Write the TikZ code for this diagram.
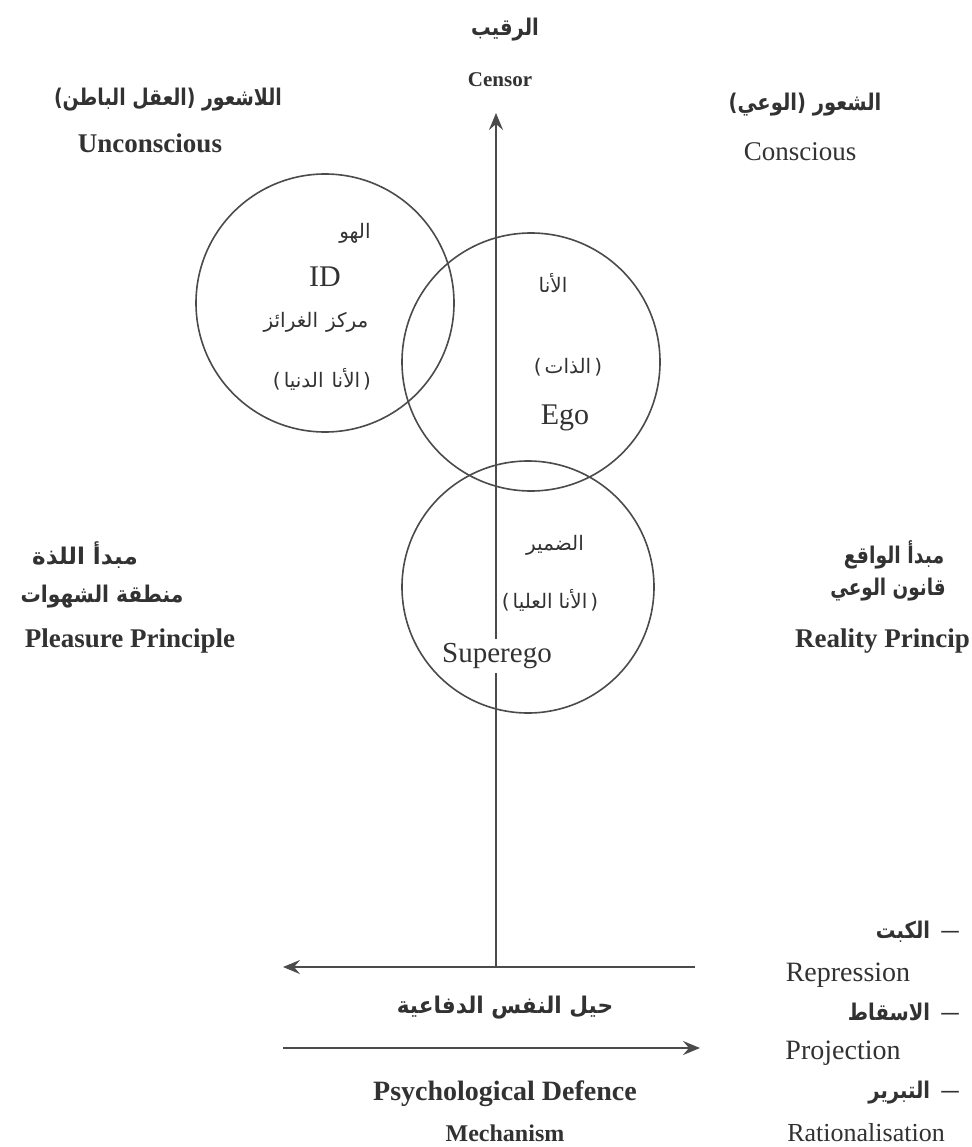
\documentclass[tikz,border=0pt]{standalone}
\usepackage{graphicx}
\usepackage{fontspec}
\setmainfont{Liberation Serif}
\newfontfamily\arabicfont[Script=Arabic]{DejaVu Sans}
\TeXXeTstate=1
\usetikzlibrary{arrows.meta}
\definecolor{ink}{RGB}{50,50,50}
\definecolor{lineink}{RGB}{75,75,75}
\newcommand{\artxt}[1]{{\arabicfont\beginR #1\endR}}
\newcommand{\sqz}[2]{\scalebox{#1}[1]{#2}}
\begin{document}
\begin{tikzpicture}[x=1pt,y=-1pt,
  lbl/.style={text=ink, inner sep=0pt, anchor=center},
  en/.style={lbl, font=\fontsize{27}{30}\selectfont},
  enb/.style={lbl, font=\fontsize{27}{30}\selectfont\bfseries},
  arb/.style={lbl, font=\fontsize{23}{26}\selectfont\arabicfont\bfseries},
  arr/.style={lbl, font=\fontsize{20}{24}\selectfont\arabicfont},
  psy/.style={circle, draw=lineink, line width=1.6pt, inner sep=0pt},
  axis/.style={draw=lineink, line width=1.6pt},
  tip/.style={-{Stealth[length=17pt,width=14pt,inset=6pt]}}]
\useasboundingbox (0,0) rectangle (971,1147);
\fill[white] (0,0) rectangle (971,1147);

% circles
\node[psy, minimum size=258pt] (id) at (325,303) {};
\node[psy, minimum size=258pt] (ego) at (531,362) {};
\node[psy, minimum size=252pt] (superego) at (528,587) {};

% axes
\coordinate (vbot) at (496,967);
\coordinate (vtop) at (496,113);
\coordinate (hright) at (695,967);
\coordinate (hleft) at (283,967);
\coordinate (bl) at (283,1048);
\coordinate (br) at (700,1048);
\draw[axis,tip] (vbot) -- (vtop);
\draw[axis,tip] (hright) -- (hleft);
\draw[axis,tip] (bl) -- (br);

% top labels
\node[arb] (raqib) at (505,30) {\sqz{0.85}{\artxt{الرقيب}}};
\node[enb, font=\fontsize{21}{24}\selectfont\bfseries] (censor) at (500,80) {Censor};
\node[arb] (lashuur) at (168,100) {\sqz{0.82}{\artxt{اللاشعور (العقل الباطن)}}};
\node[enb] (uncon) at (150,143) {Unconscious};
\node[arb] (shuur) at (805,105) {\sqz{0.85}{\artxt{الشعور (الوعي)}}};
\node[en] (con) at (800,152) {Conscious};

% id
\node[arr] (huwa) at (355,233) {\artxt{الهو}};
\node[en, font=\fontsize{30}{32}\selectfont] (idtxt) at (325,277) {ID};
\node[arr] (markaz) at (316,322) {\artxt{مركز\hspace{8pt}الغرائز}};
\node[arr] (dunya) at (322,379) {\artxt{(\hspace{3pt}الأنا\hspace{8pt}الدنيا\hspace{3pt})}};

% ego
\node[arr] (ana) at (553,283) {\artxt{الأنا}};
\node[arr] (dhat) at (568,367) {\artxt{(\hspace{3pt}الذات\hspace{3pt})}};
\node[en, font=\fontsize{30}{32}\selectfont] (egotxt) at (565,418) {Ego};

% superego
\node[arr] (damir) at (555,545) {\artxt{الضمير}};
\node[arr] (ulya) at (550,600) {\artxt{(\hspace{3pt}الأنا\hspace{6pt}العليا\hspace{3pt})}};
\node[en, font=\fontsize{29}{32}\selectfont, fill=white, inner sep=4pt] (supertxt) at (497,656) {Superego};

% sides
\node[arb] (mabda1) at (85,555) {\artxt{مبدأ اللذة}};
\node[arb] (mintaqa) at (102,597) {\sqz{0.88}{\artxt{منطقة الشهوات}}};
\node[enb] (pleasure) at (130,641) {Pleasure Principle};
\node[arb] (mabda2) at (894,555) {\sqz{0.82}{\artxt{مبدأ الواقع}}};
\node[arb] (qanun) at (888,590) {\sqz{0.8}{\artxt{قانون الوعي}}};
\node[enb, anchor=east] (reality) at (970,641) {Reality Princip};

% bottom
\node[arb] (hiyal) at (505,1008) {\sqz{0.94}{\artxt{حيل النفس الدفاعية}}};
\node[enb, font=\fontsize{28}{30}\selectfont\bfseries] (psych) at (505,1094) {Psychological Defence};
\node[enb, font=\fontsize{24}{28}\selectfont\bfseries] (mech) at (505,1133) {Mechanism};

% list
\node[arb, anchor=east] (kabt) at (960,932) {\sqz{0.85}{\artxt{{\mdseries —}\hspace{12pt}الكبت}}};
\node[en, font=\fontsize{28}{30}\selectfont] (repr) at (848,975) {Repression};
\node[arb, anchor=east] (isqat) at (960,1012) {\sqz{0.85}{\artxt{{\mdseries —}\hspace{12pt}الاسقاط}}};
\node[en, font=\fontsize{28}{30}\selectfont] (proj) at (843,1053) {Projection};
\node[arb, anchor=east] (tabrir) at (960,1093) {\sqz{0.85}{\artxt{{\mdseries —}\hspace{12pt}التبرير}}};
\node[en, font=\fontsize{26}{28}\selectfont] (ration) at (866,1133) {Rationalisation};
\end{tikzpicture}
\end{document}
